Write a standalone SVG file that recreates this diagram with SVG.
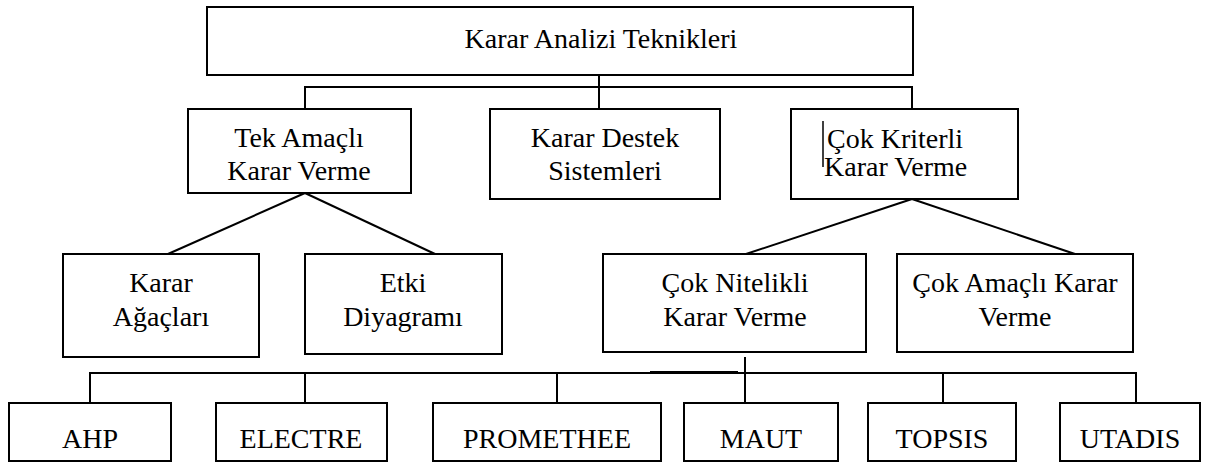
<svg xmlns="http://www.w3.org/2000/svg" width="1214" height="467" viewBox="0 0 1214 467">
  <style>
    .box { fill: #ffffff; stroke: #000000; stroke-width: 2; }
    text { font-family: 'Liberation Serif', 'Times New Roman', serif; font-size: 28px; fill: #000000; }
    .lbl { text-anchor: middle; }
    .lbl-start { text-anchor: start; }
    .conn line { stroke: #000000; stroke-width: 2; }
  </style>
  <rect width="1214" height="467" fill="#ffffff"/>

  <!-- connectors -->
  <g class="conn" id="connectors">
    <!-- root to level 2 -->
    <line x1="599" y1="75" x2="599" y2="109"/>
    <line x1="305" y1="87" x2="912" y2="87"/>
    <line x1="305" y1="86" x2="305" y2="109"/>
    <line x1="912" y1="86" x2="912" y2="109"/>
    <!-- Tek Amaçlı branches -->
    <line x1="305" y1="193" x2="168" y2="254"/>
    <line x1="305" y1="193" x2="435" y2="254"/>
    <!-- Çok Kriterli branches -->
    <line x1="912" y1="199" x2="746" y2="254"/>
    <line x1="912" y1="199" x2="1075" y2="254"/>
    <!-- Çok Nitelikli to methods -->
    <line x1="90" y1="373" x2="1136" y2="373"/>
    <line x1="650" y1="372" x2="738" y2="372"/>
    <line x1="745" y1="357" x2="745" y2="403"/>
    <line x1="90" y1="372" x2="90" y2="403"/>
    <line x1="305" y1="373" x2="305" y2="403"/>
    <line x1="557" y1="373" x2="557" y2="403"/>
    <line x1="943" y1="373" x2="943" y2="403"/>
    <line x1="1136" y1="372" x2="1136" y2="403"/>
  </g>

  <g id="root">
    <rect class="box" x="207" y="7" width="706" height="68"/>
    <text class="lbl" x="601" y="48">Karar Analizi Teknikleri</text>
  </g>

  <g id="tek-amacli">
    <rect class="box" x="188" y="109" width="223" height="84"/>
    <text class="lbl" x="299" y="147">Tek Amaçlı</text>
    <text class="lbl" x="299" y="180">Karar Verme</text>
  </g>

  <g id="karar-destek">
    <rect class="box" x="490" y="109" width="230" height="90"/>
    <text class="lbl" x="605" y="147">Karar Destek</text>
    <text class="lbl" x="605" y="180">Sistemleri</text>
  </g>

  <g id="cok-kriterli">
    <rect class="box" x="791" y="109" width="227" height="90"/>
    <line x1="823" y1="121" x2="823" y2="167" stroke="#000000" stroke-width="1.5"/>
    <text class="lbl-start" x="827" y="148">Çok Kriterli</text>
    <text class="lbl-start" x="824" y="176">Karar Verme</text>
  </g>

  <g id="karar-agaclari">
    <rect class="box" x="63" y="254" width="196" height="103"/>
    <text class="lbl" x="161" y="292">Karar</text>
    <text class="lbl" x="161" y="326">Ağaçları</text>
  </g>

  <g id="etki-diyagrami">
    <rect class="box" x="305" y="254" width="197" height="100"/>
    <text class="lbl" x="403" y="292">Etki</text>
    <text class="lbl" x="403" y="326">Diyagramı</text>
  </g>

  <g id="cok-nitelikli">
    <rect class="box" x="603" y="254" width="263" height="98"/>
    <text class="lbl" x="735" y="292">Çok Nitelikli</text>
    <text class="lbl" x="735" y="326">Karar Verme</text>
  </g>

  <g id="cok-amacli">
    <rect class="box" x="897" y="254" width="236" height="98"/>
    <text class="lbl" x="1015" y="292">Çok Amaçlı Karar</text>
    <text class="lbl" x="1015" y="326">Verme</text>
  </g>

  <g id="ahp">
    <rect class="box" x="9" y="403" width="162" height="58"/>
    <text class="lbl" x="90" y="448">AHP</text>
  </g>

  <g id="electre">
    <rect class="box" x="216" y="403" width="171" height="58"/>
    <text class="lbl" x="301" y="448">ELECTRE</text>
  </g>

  <g id="promethee">
    <rect class="box" x="433" y="403" width="228" height="58"/>
    <text class="lbl" x="547" y="448">PROMETHEE</text>
  </g>

  <g id="maut">
    <rect class="box" x="684" y="403" width="154" height="58"/>
    <text class="lbl" x="761" y="448">MAUT</text>
  </g>

  <g id="topsis">
    <rect class="box" x="868" y="403" width="148" height="58"/>
    <text class="lbl" x="942" y="448">TOPSIS</text>
  </g>

  <g id="utadis">
    <rect class="box" x="1060" y="403" width="140" height="58"/>
    <text class="lbl" x="1130" y="448">UTADIS</text>
  </g>
</svg>
